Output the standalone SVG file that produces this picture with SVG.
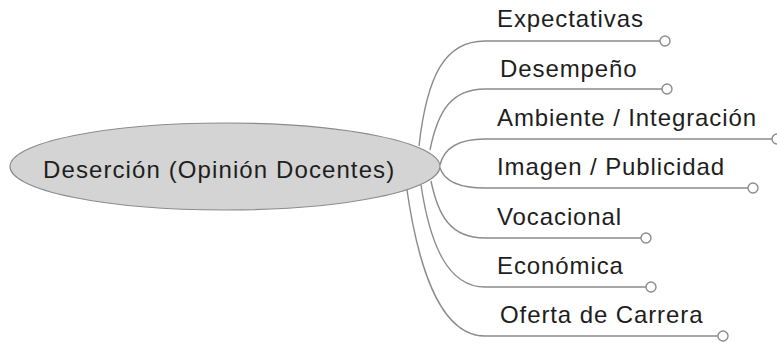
<svg xmlns="http://www.w3.org/2000/svg" width="777" height="343" viewBox="0 0 777 343">
<style>
.bg{fill:#ffffff}
.conn path{fill:none;stroke:#8c8c8c;stroke-width:1.4}
.end{fill:#ffffff;stroke:#8c8c8c;stroke-width:1.4}
.root{fill:#d4d4d4;stroke:#8c8c8c;stroke-width:1.2}
text{font-family:"Liberation Sans",Arial,sans-serif;font-size:24px;fill:#1e1e1e;letter-spacing:0.9px}
</style>
<rect class="bg" x="0" y="0" width="777" height="343"/>
<g id="connectors" class="conn">
<path d="M419,146 C427,75 445,41 485,41 L660,41"/>
<path d="M430,150 C438,110 452,89 485,89 L662,89"/>
<path d="M440,165 C444,148 458,139 485,139 L772,139"/>
<path d="M440,168 C444,180 458,188 485,188 L748,188"/>
<path d="M431,181 C438,215 450,238 485,238 L641,238"/>
<path d="M421,185 C430,245 448,287 485,287 L646,287"/>
<path d="M407,190 C420,280 445,336 485,336 L718,336"/>
</g>
<g id="root">
<ellipse class="root" cx="225" cy="166.5" rx="215" ry="43.5"/>
<text x="43" y="178" style="letter-spacing:1.1px">Deserción (Opinión Docentes)</text>
</g>
<g id="n-expectativas">
<circle class="end" cx="665" cy="41" r="5"/>
<text x="497" y="27">Expectativas</text>
</g>
<g id="n-desempeno">
<circle class="end" cx="667" cy="89" r="5"/>
<text x="500" y="77">Desempeño</text>
</g>
<g id="n-ambiente">
<circle class="end" cx="777" cy="139" r="5"/>
<text x="497" y="126">Ambiente / Integración</text>
</g>
<g id="n-imagen">
<circle class="end" cx="753" cy="188" r="5"/>
<text x="497" y="175">Imagen / Publicidad</text>
</g>
<g id="n-vocacional">
<circle class="end" cx="646" cy="238" r="5"/>
<text x="497" y="225">Vocacional</text>
</g>
<g id="n-economica">
<circle class="end" cx="651" cy="287" r="5"/>
<text x="497" y="274">Económica</text>
</g>
<g id="n-oferta">
<circle class="end" cx="723" cy="336" r="5"/>
<text x="500" y="323">Oferta de Carrera</text>
</g>
</svg>
